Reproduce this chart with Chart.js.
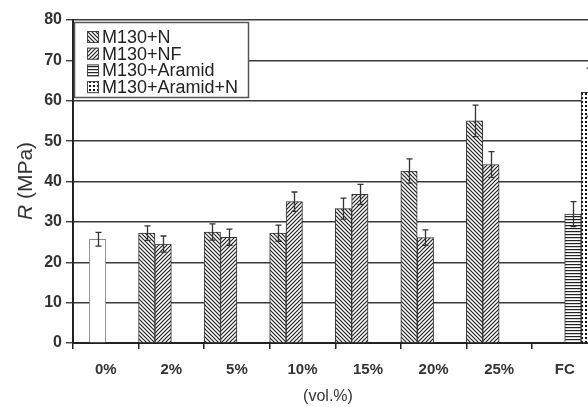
<!DOCTYPE html>
<html>
<head>
<meta charset="utf-8">
<script src="https://cdn.jsdelivr.net/npm/chart.js@4.4.1/dist/chart.umd.min.js"></script>
<style>
  html, body { margin: 0; padding: 0; background: #fff; overflow: hidden; }
  #wrap { width: 588px; height: 407px; overflow: hidden; }
</style>
</head>
<body>
<div id="wrap"><canvas id="grafica" width="600" height="407"></canvas></div>
<script>
const categorias = ['0%', '2%', '5%', '10%', '15%', '20%', '25%', 'FC'];
const ticksY = [0, 10, 20, 30, 40, 50, 60, 70, 80];
const nombresSeries = ['M130+N', 'M130+NF', 'M130+Aramid', 'M130+Aramid+N'];

// la barra blanca de 0% va en el hueco de NF
const valoresN = [null, 27.2, 27.5, 27.2, 33.3, 42.6, 55.0, null];
const erroresN = [null, 1.8, 2.0, 2.0, 2.6, 3.0, 3.9, null];
const valoresNF = [25.7, 24.5, 26.2, 35.0, 36.8, 26.1, 44.2, null];
const erroresNF = [1.7, 2.0, 2.0, 2.4, 2.5, 1.9, 3.2, null];
const valoresAramid = [null, null, null, null, null, null, null, 31.9];
const erroresAramid = [null, null, null, null, null, null, null, 3.1];
const valoresAramidN = [null, null, null, null, null, null, null, 62.1];
const erroresAramidN = [null, null, null, null, null, null, null, 6.0];

const fuente = '"Liberation Sans", Arial, sans-serif';
Chart.defaults.font.family = fuente;

function crearPatron(tipo) {
  const c = document.createElement('canvas');
  const g = c.getContext('2d');
  if (tipo === 'aramid') {
    c.width = 4; c.height = 3;
    g.fillStyle = '#fff'; g.fillRect(0, 0, 4, 3);
    g.fillStyle = '#222'; g.fillRect(0, 0, 4, 1.2);
  } else if (tipo === 'aramidN') {
    c.width = 4; c.height = 4;
    g.fillStyle = '#fff'; g.fillRect(0, 0, 4, 4);
    g.fillStyle = '#111'; g.fillRect(1, 1, 2, 2);
  } else {
    c.width = 4; c.height = 4;
    g.fillStyle = '#fff'; g.fillRect(0, 0, 4, 4);
    g.strokeStyle = '#222'; g.lineWidth = 1.2;
    g.beginPath();
    if (tipo === 'n') {
      g.moveTo(-1, -1); g.lineTo(5, 5);
      g.moveTo(-1, 3); g.lineTo(1, 5);
      g.moveTo(3, -1); g.lineTo(5, 1);
    } else {
      g.moveTo(-1, 5); g.lineTo(5, -1);
      g.moveTo(-1, 1); g.lineTo(1, -1);
      g.moveTo(3, 5); g.lineTo(5, 3);
    }
    g.stroke();
  }
  return g.createPattern(c, 'repeat');
}

const patrones = {
  n: crearPatron('n'),
  nf: crearPatron('nf'),
  aramid: crearPatron('aramid'),
  aramidN: crearPatron('aramidN')
};
const patronesLeyenda = [patrones.n, patrones.nf, patrones.aramid, patrones.aramidN];

const erroresPorSerie = [erroresN, erroresNF, erroresAramid, erroresAramidN];

const barrasError = {
  id: 'barrasError',
  afterDatasetsDraw(chart) {
    const ctx = chart.ctx;
    const y = chart.scales.y;
    ctx.save();
    ctx.strokeStyle = '#333';
    ctx.lineWidth = 1.3;
    erroresPorSerie.forEach((errores, i) => {
      const meta = chart.getDatasetMeta(i);
      const datos = chart.data.datasets[i].data;
      meta.data.forEach((el, j) => {
        if (datos[j] == null || errores[j] == null) return;
        const x = Math.round(el.x) + 0.5;
        const arriba = y.getPixelForValue(datos[j] + errores[j]);
        const abajo = y.getPixelForValue(datos[j] - errores[j]);
        ctx.beginPath();
        ctx.moveTo(x, arriba); ctx.lineTo(x, abajo);
        ctx.moveTo(x - 3, arriba); ctx.lineTo(x + 3, arriba);
        ctx.moveTo(x - 3, abajo); ctx.lineTo(x + 3, abajo);
        ctx.stroke();
      });
    });
    ctx.restore();
  }
};

const leyendaYTitulos = {
  id: 'leyendaYTitulos',
  afterDraw(chart) {
    const ctx = chart.ctx;
    ctx.save();
    // caja de leyenda
    ctx.fillStyle = '#fff';
    ctx.fillRect(74.5, 22.5, 174, 75);
    ctx.strokeStyle = '#555';
    ctx.lineWidth = 1.5;
    ctx.strokeRect(74.5, 22.5, 174, 75);
    ctx.font = '18px ' + fuente;
    ctx.textBaseline = 'middle';
    ctx.fillStyle = '#222';
    nombresSeries.forEach((nombre, i) => {
      const yc = 37 + i * 16.7;
      ctx.fillStyle = patronesLeyenda[i];
      ctx.fillRect(87, yc - 6, 12, 12);
      ctx.strokeStyle = '#444';
      ctx.lineWidth = 1;
      ctx.strokeRect(87.5, yc - 5.5, 11, 11);
      ctx.fillStyle = '#222';
      ctx.fillText(nombre, 102, yc + 1);
    });

    // titulo eje y: R en cursiva
    ctx.translate(26, 181);
    ctx.rotate(-Math.PI / 2);
    ctx.fillStyle = '#333';
    ctx.textBaseline = 'middle';
    ctx.textAlign = 'left';
    const fR = 'italic 21px ' + fuente;
    const fResto = '21px ' + fuente;
    ctx.font = fR;
    const wR = ctx.measureText('R').width;
    ctx.font = fResto;
    const wResto = ctx.measureText(' (MPa)').width;
    const x0 = -(wR + wResto) / 2;
    ctx.font = fR;
    ctx.fillText('R', x0, 0);
    ctx.font = fResto;
    ctx.fillText(' (MPa)', x0 + wR, 0);
    ctx.restore();

    // titulo eje x
    ctx.save();
    ctx.font = '16px ' + fuente;
    ctx.fillStyle = '#333';
    ctx.textAlign = 'center';
    ctx.textBaseline = 'middle';
    ctx.fillText('(vol.%)', 328, 397);
    ctx.restore();
  }
};

const ctx = document.getElementById('grafica');

new Chart(ctx, {
  type: 'bar',
  data: {
    labels: categorias,
    datasets: [
      {
        label: nombresSeries[0],
        data: valoresN,
        backgroundColor: patrones.n,
        borderColor: '#333',
        borderWidth: 1
      },
      {
        label: nombresSeries[1],
        data: valoresNF,
        backgroundColor: valoresNF.map((v, i) => i === 0 ? '#fff' : patrones.nf),
        borderColor: valoresNF.map((v, i) => i === 0 ? '#888' : '#333'),
        borderWidth: 1
      },
      {
        label: nombresSeries[2],
        data: valoresAramid,
        backgroundColor: patrones.aramid,
        borderColor: '#333',
        borderWidth: 1
      },
      {
        label: nombresSeries[3],
        data: valoresAramidN,
        backgroundColor: patrones.aramidN,
        borderColor: '#333',
        borderWidth: 1
      }
    ]
  },
  options: {
    responsive: false,
    animation: false,
    devicePixelRatio: 1,
    categoryPercentage: 1.0,
    barPercentage: 1.0,
    layout: {
      padding: { top: 20, right: 2.5, left: 0, bottom: 0 }
    },
    plugins: {
      legend: { display: false },
      tooltip: { enabled: false }
    },
    scales: {
      y: {
        min: 0,
        max: 80,
        afterBuildTicks(s) { s.ticks = ticksY.map(v => ({ value: v })); },
        afterFit(s) { s.width = 73; },
        ticks: {
          color: '#333',
          padding: 4,
          font: { size: 16, weight: 'bold' }
        },
        grid: {
          color: '#3a3a3a',
          lineWidth: 1.4,
          tickLength: 7,
          drawTicks: true
        },
        border: { color: '#222', width: 2 }
      },
      x: {
        afterFit(s) { s.height = 64; },
        ticks: {
          color: '#333',
          padding: 12,
          font: { size: 15, weight: 'bold' }
        },
        grid: {
          display: true,
          drawOnChartArea: false,
          offset: true,
          tickLength: 6,
          color: '#222',
          lineWidth: 1.5
        },
        border: { color: '#222', width: 2 }
      }
    }
  },
  plugins: [barrasError, leyendaYTitulos]
});
</script>
</body>
</html>
